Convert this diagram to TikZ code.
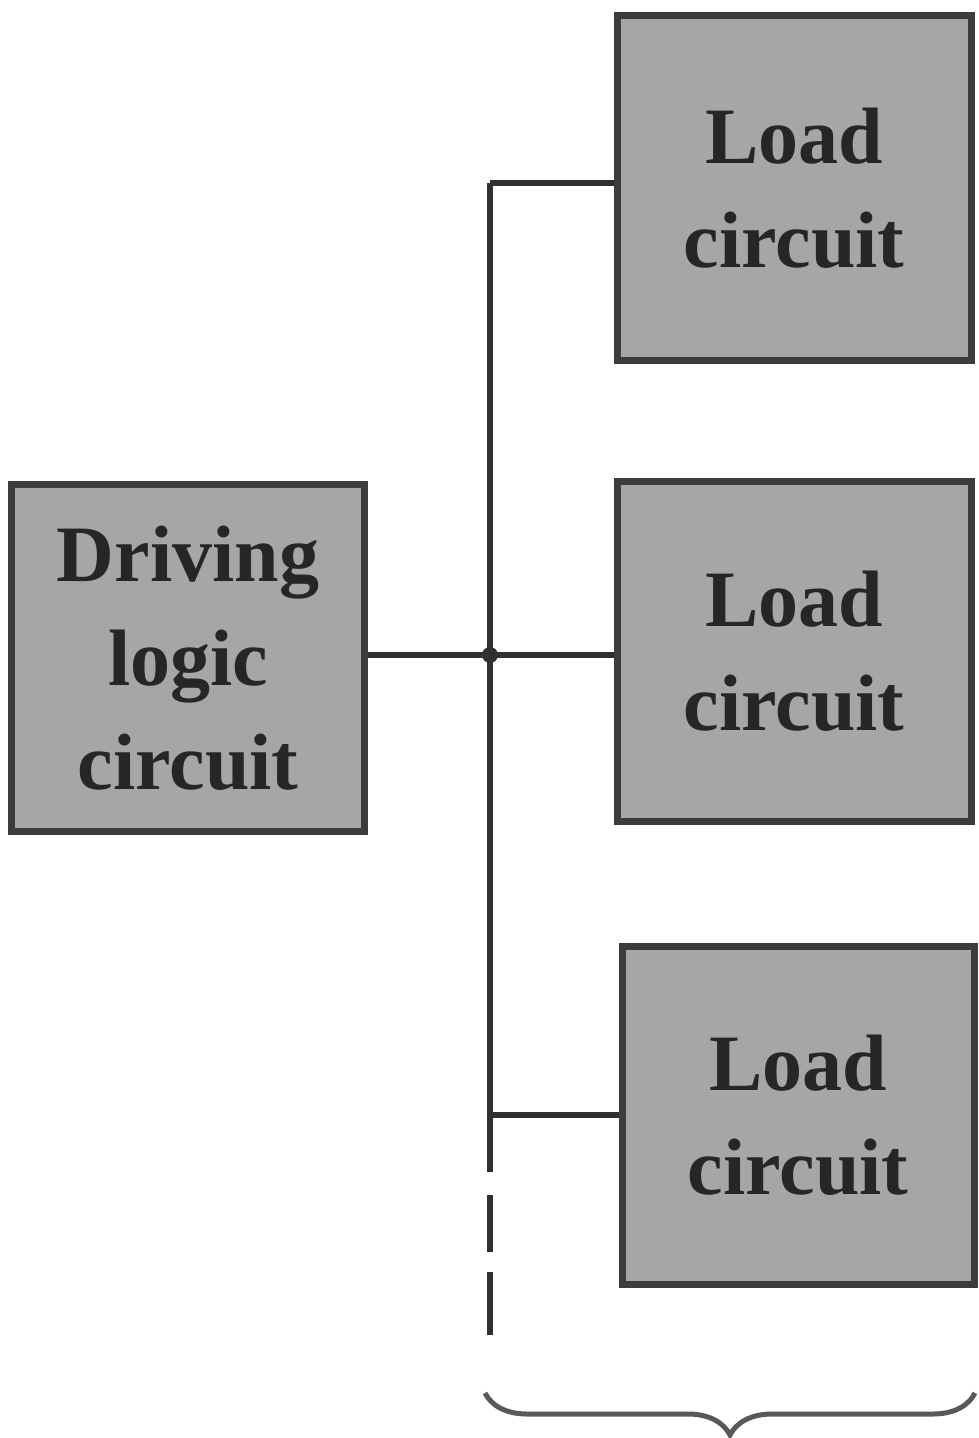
\documentclass[tikz,border=0pt]{standalone}
\usepackage{fontspec}
\setmainfont{Liberation Serif}
\usetikzlibrary{decorations.pathreplacing,calc}
\definecolor{boxfill}{HTML}{A6A6A6}
\definecolor{boxedge}{HTML}{3C3C3C}
\definecolor{wire}{HTML}{303030}
\definecolor{inktext}{HTML}{262626}
\begin{document}
\begin{tikzpicture}[x=1pt,y=-1pt,
  blockbox/.style={draw=boxedge, line width=7pt, fill=boxfill, align=center,
    text=inktext, font=\bfseries\fontsize{80}{104}\selectfont, inner sep=0pt},
  wireline/.style={draw=wire, line width=5.5pt},
  bracestyle/.style={draw=black!65, line width=5pt, decorate,
    decoration={brace, mirror, amplitude=42pt}}]
\useasboundingbox (0,0) rectangle (978,1438);

\node[blockbox, minimum width=353pt, minimum height=347pt] (drv) at (188,658)
  {Driving\\logic\\circuit};
\node[blockbox, minimum width=354pt, minimum height=345pt] (l1) at (794,188)
  {Load\\circuit};
\node[blockbox, minimum width=354pt, minimum height=340pt] (l2) at (794,651)
  {Load\\circuit};
\node[blockbox, minimum width=352pt, minimum height=338pt] (l3) at (798,1115)
  {Load\\circuit};

\coordinate (top) at (490,183);
\coordinate (j) at (490,655);
\coordinate (bt) at (490,1115);
\coordinate (end) at (490,1335);

\draw[wireline, dash pattern=on 989pt off 23pt on 57pt off 20pt on 66pt] (top) -- (end);
\draw[wireline] (top) -- (top -| l1.west);
\draw[wireline] (drv.east |- j) -- (j -| l2.west);
\draw[wireline] (bt) -- (bt -| l3.west);
\fill[wire] (j) circle (8pt);

\coordinate (bl) at (485,1393);
\coordinate (br) at (975,1393);
\draw[bracestyle] (bl) -- (br);
\end{tikzpicture}
\end{document}
